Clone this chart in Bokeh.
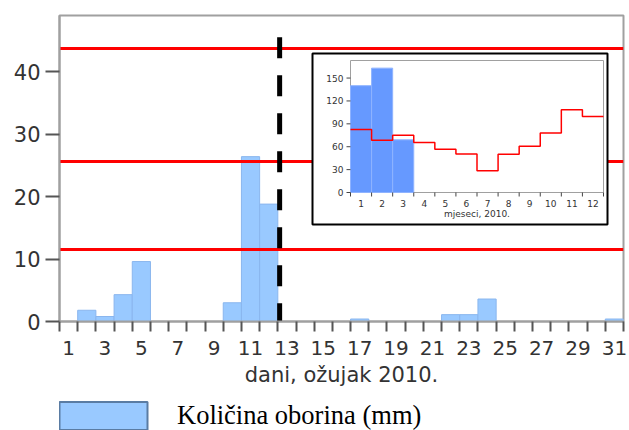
from bokeh.plotting import figure
from bokeh.models import FixedTicker, Legend, LegendItem, Range1d
from bokeh.layouts import column
from bokeh.core.properties import value
from bokeh.embed import file_html
from bokeh.resources import INLINE

# ---------------- data ----------------
days = list(range(1, 32))
rain_mm = [0, 1.8, 0.8, 4.3, 9.6, 0, 0, 0, 0, 3.0, 26.4, 18.8, 0, 0, 0, 0,
           0.4, 0, 0, 0, 0, 1.1, 1.1, 3.6, 0, 0, 0, 0, 0, 0, 0.4]
ref_lines = [43.7, 25.7, 11.5]
report_day = 12.6
report_top = 45.5
day_tick_labels = list(range(1, 32, 2))
y_ticks = [0, 10, 20, 30, 40]

months = list(range(1, 13))
month_rain_months = [1, 2, 3]
month_rain = [140, 163, 69]
month_avg = [82.5, 68.4, 75, 65.4, 56.6, 50.5, 28.5, 50, 60.5, 78, 108.4, 99.6]
month_y_ticks = [0, 30, 60, 90, 120, 150]
month_y_max = 173

FONT = "DejaVu Sans"
TXT = "#333333"
AX = "#a0a0a0"
TICK = "#555555"
BAR = "#99c9ff"

# ---------------- layout constants (pixels) ----------------
W, H, HL = 629, 392, 38                    # main figure, legend strip
FL, FT, FR, FB = 59, 15, 623, 321          # main frame
BOX = (312, 53, 607, 224)                  # inset box  (l, t, r, b)
IFL, IFT, IFR, IFB = 350, 60, 603, 192     # inset frame

X0, X1 = 0.5, 31.5
Y0, Y1 = 0, 49

p = figure(width=W, height=H, x_range=(X0, X1), y_range=(Y0, Y1),
           output_backend="svg", toolbar_location=None,
           min_border_left=FL, min_border_right=W - FR, min_border_top=FT,
           min_border_bottom=H - FB)
p.grid.visible = False
p.outline_line_color = AX
p.outline_line_width = 2

# ---------------- main marks ----------------
p.vbar(x=days, top=rain_mm, width=1, fill_color=BAR,
       line_color="#8ab6ee", line_width=1)
p.hspan(y=ref_lines, line_color="#ff0000", line_width=3)
p.segment(x0=[report_day], y0=[report_top], x1=[report_day], y1=[0],
          line_color="black", line_width=5, line_dash="21 17")

# x axis: ticks at day boundaries, labels at odd days
xa = p.xaxis[0]
xa.ticker = FixedTicker(ticks=day_tick_labels,
                        minor_ticks=[d - 0.5 for d in days] + [days[-1] + 0.5])
xa.major_tick_line_color = None
xa.major_tick_out = 0
xa.major_tick_in = 0
xa.minor_tick_out = 10
xa.minor_tick_in = 0
xa.minor_tick_line_color = TICK
xa.minor_tick_line_width = 2
xa.major_label_standoff = 9
xa.major_label_text_font = FONT
xa.major_label_text_font_size = "20px"
xa.major_label_text_color = TXT
xa.axis_line_color = AX
xa.axis_line_width = 2
xa.axis_label = "dani, ožujak 2010."
xa.axis_label_text_font = FONT
xa.axis_label_text_font_size = "21px"
xa.axis_label_text_font_style = "normal"
xa.axis_label_text_color = TXT
xa.axis_label_standoff = 5

ya = p.yaxis[0]
ya.ticker = FixedTicker(ticks=y_ticks)
ya.major_tick_out = 14
ya.major_tick_in = 0
ya.major_tick_line_color = TICK
ya.major_tick_line_width = 2
ya.minor_tick_line_color = None
ya.major_label_standoff = 5
ya.major_label_text_font = FONT
ya.major_label_text_font_size = "21px"
ya.major_label_text_color = TXT
ya.axis_line_color = AX
ya.axis_line_width = 2

# ---------------- inset (drawn inside the main frame on its own ranges) ----
IX0, IX1 = months[0] - 0.5, months[-1] + 0.5
sx = (IFR - IFL) / (IX1 - IX0)
sy = (IFB - IFT) / (month_y_max - 0)
p.extra_x_ranges = {"ix": Range1d(IX0 - (IFL - FL) / sx, IX1 + (FR - IFR) / sx)}
p.extra_y_ranges = {"iy": Range1d(0 - (FB - IFB) / sy,
                                  month_y_max + (IFT - FT) / sy)}
R = dict(x_range_name="ix", y_range_name="iy")


def px_x(px):
    return IX0 + (px - IFL) / sx


def px_y(py):
    return (IFB - py) / sy


# white box with black border
p.quad(left=[px_x(BOX[0])], right=[px_x(BOX[2])], top=[px_y(BOX[1])],
       bottom=[px_y(BOX[3])], fill_color="white", line_color="black",
       line_width=2, **R)
# inset frame
p.quad(left=[IX0], right=[IX1], bottom=[0], top=[month_y_max],
       fill_color=None, line_color=AX, line_width=1, **R)
# inset bars and monthly average step line
p.vbar(x=month_rain_months, top=month_rain, width=1, fill_color="#6699ff",
       line_color="#8fb3ff", line_width=1, **R)
p.step(x=[m - 0.5 for m in months] + [months[-1] + 0.5],
       y=month_avg + [month_avg[-1]], mode="after",
       line_color="#ff0000", line_width=1.5, **R)

# inset ticks
bounds = [m - 0.5 for m in months] + [months[-1] + 0.5]
tick_px = 4
p.segment(x0=bounds, y0=[0] * len(bounds), x1=bounds,
          y1=[-tick_px / sy] * len(bounds), line_color="#444444",
          line_width=1, **R)
p.segment(x0=[IX0 - tick_px / sx] * len(month_y_ticks), y0=month_y_ticks,
          x1=[IX0] * len(month_y_ticks), y1=month_y_ticks,
          line_color="#444444", line_width=1, **R)

# inset tick labels
p.text(x=months, y=[0] * len(months), text=[str(m) for m in months],
       y_offset=7, text_align="center", text_baseline="top",
       text_font=value(FONT), text_font_size=value("9px"), text_color=TXT, **R)
p.text(x=[IX0] * len(month_y_ticks), y=month_y_ticks,
       text=[str(v) for v in month_y_ticks], x_offset=-7,
       text_align="right", text_baseline="middle",
       text_font=value(FONT), text_font_size=value("9px"), text_color=TXT, **R)
p.text(x=[(IX0 + IX1) / 2], y=[0], text=["mjeseci, 2010."], y_offset=21,
       text_align="center", text_baseline="middle",
       text_font=value(FONT), text_font_size=value("9px"), text_color=TXT, **R)

# ---------------- legend strip (frame is aligned with the main frame) -------
lg = figure(width=W, height=HL, x_range=(X0, X1), y_range=(Y0, Y1),
            output_backend="svg", toolbar_location=None,
            x_axis_location=None, y_axis_location=None,
            min_border_left=0, min_border_right=0, min_border_top=0,
            min_border_bottom=0)
lg.grid.visible = False
lg.outline_line_color = None
legend_bars = lg.vbar(x=days, top=rain_mm, width=1, fill_color=BAR,
                      line_color="#5a7ca3", line_width=2, visible=False)
legend = Legend(items=[LegendItem(label="Količina oborina (mm)",
                                  renderers=[legend_bars])],
                location=(-11, -3), orientation="horizontal",
                glyph_width=110, glyph_height=35, label_standoff=19,
                padding=0, margin=0, spacing=0,
                border_line_color=None, background_fill_alpha=0,
                label_text_font="Liberation Serif",
                label_text_font_size="26.5px", label_text_color="black")
lg.add_layout(legend, "center")

open("out.html", "w").write(file_html(column(p, lg), INLINE))
